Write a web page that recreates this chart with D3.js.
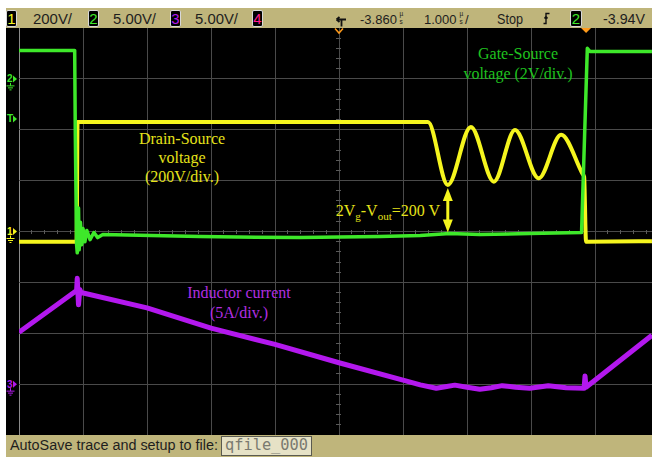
<!DOCTYPE html>
<html><head><meta charset="utf-8">
<script src="https://cdn.jsdelivr.net/npm/d3@7"></script>
<style>html,body{margin:0;padding:0;background:#fff;} svg{display:block}</style>
</head><body><svg id="c" width="652" height="457"></svg>
<script>
// ---------------- data (read from the screen) ----------------
// time in microseconds relative to the trigger point
const ch1Time  = [-8.86, -7.96, -7.945, -2.47, -2.16, -1.80, -1.44, -1.11, -0.74, -0.39, -0.06, -0.03, 0.00, 1.03];
const ch1Volts = [-40, -40, 430, 430, 183, 411, 196, 399, 209, 380, 229, 215, -40, -38];

const ch2Time  = [-8.86, -7.99, -7.98, -7.96, -7.95, -7.93, -7.92, -7.90, -7.88, -7.86, -7.83, -7.80, -7.75, -7.69, -7.63, -7.55, -6.03, -4.47, -3.22, -2.59, -2.13, -1.66, -0.88, -0.07, 0.02, 0.06, 1.03];
const ch2Volts = [2.8, 2.8, -5.6, -16.3, -17.1, -12.7, -16.8, -14.1, -16.3, -14.7, -16.0, -14.9, -15.8, -15.1, -15.6, -15.3, -15.5, -15.6, -15.5, -15.4, -15.2, -15.3, -15.2, -15.1, 3.0, 2.7, 2.7];

const ch3Time  = [-8.86, -7.96, -7.95, -7.93, -7.91, -7.89, -6.86, -5.86, -4.86, -3.86, -2.86, -2.59, -2.34, -2.20, -2.05, -1.86, -1.66, -1.48, -1.31, -1.10, -0.88, -0.59, -0.31, -0.03, -0.016, 0.00, 1.03];
const ch3Amps  = [5.1, 9.2, 10.4, 7.8, 9.3, 9.0, 7.5, 5.5, 3.9, 2.1, 0.4, -0.07, -0.4, -0.25, -0.1, -0.3, -0.5, -0.35, -0.15, -0.3, -0.4, -0.15, -0.35, -0.4, 0.8, -0.3, 4.8];

// scope settings
const chScale  = [200, 5, 5];          // units per division
const chGround = [0, 3, -3];           // ground marker, divisions from centre
const timePerDiv = 1.0;                // µs/div
const delay = -3.86;                   // µs at screen centre
const trigLevel = -3.94;               // V on channel 2

const headerChannels = ["1", "2", "3", "4"];
const headerScales   = ["200V/", "5.00V/", "5.00V/", ""];
const delayLabel = "-3.860", timebaseLabel = "1.000", runLabel = "Stop", trigSource = "2", trigLabel = "-3.94V";
const statusLabel = "AutoSave trace and setup to file:", fileLabel = "qfile_000";

// ---------------- drawing ----------------
const colors = {ch1: "#f5f51e", ch2: "#3ee82a", ch3: "#b318ee", ch4: "#ff1a8c",
                t1: "#e6e31a", t2: "#1fc21f", t3: "#b02ee0", bar: "#bfb57b", grid: "#4a4a4a"};
const svg = d3.select("#c");
const plot = {x0: 6, x1: 652, y0: 28, y1: 435, gx0: 19};
const divW = 64;

const x = d3.scaleLinear().domain([delay - 5 * timePerDiv, delay + 5 * timePerDiv]).range([plot.gx0, plot.gx0 + 10 * divW]);
const yDiv = d3.scaleLinear().domain([-4, 4]).range([plot.y1, plot.y0]);
const yCh = i => v => yDiv(v / chScale[i] + chGround[i]);

svg.append("rect").attr("x", plot.x0).attr("y", plot.y0).attr("width", plot.x1 - plot.x0).attr("height", plot.y1 - plot.y0).attr("fill", "#000");

// grid
const g = svg.append("g");
const vDivs = d3.range(0, 11).map(k => delay - 5 + k * timePerDiv);
g.selectAll(".vg").data(vDivs).join("line")
  .attr("x1", d => x(d)).attr("x2", d => x(d)).attr("y1", plot.y0).attr("y2", plot.y1)
  .attr("stroke", (d, i) => i === 0 ? "#8a8a8a" : colors.grid).attr("stroke-width", 1).attr("shape-rendering", "crispEdges");
g.selectAll(".hg").data(d3.range(-3, 4)).join("line")
  .attr("x1", plot.gx0).attr("x2", plot.x1).attr("y1", d => yDiv(d)).attr("y2", d => yDiv(d))
  .attr("stroke", colors.grid).attr("stroke-width", 1).attr("shape-rendering", "crispEdges");
// centre-line minor ticks
const cx = x(delay), cy = yDiv(0);
g.selectAll(".ty").data(d3.range(-20, 21).filter(k => k % 5 !== 0)).join("line")
  .attr("x1", cx - 3).attr("x2", cx + 2).attr("y1", k => yDiv(k / 5)).attr("y2", k => yDiv(k / 5))
  .attr("stroke", "#5a5a5a").attr("shape-rendering", "crispEdges");
g.selectAll(".tx").data(d3.range(-25, 26).filter(k => k % 5 !== 0)).join("line")
  .attr("x1", k => x(delay + k / 5)).attr("x2", k => x(delay + k / 5)).attr("y1", cy - 2).attr("y2", cy + 2)
  .attr("stroke", "#5a5a5a").attr("shape-rendering", "crispEdges");

// traces
svg.append("clipPath").attr("id", "pc").append("rect")
  .attr("x", plot.gx0).attr("y", plot.y0).attr("width", plot.x1 - plot.gx0).attr("height", plot.y1 - plot.y0);
function trace(ts, vs, i, color, w, curve) {
  const yy = yCh(i);
  const line = d3.line().x(d => x(d[0])).y(d => yy(d[1])).curve(curve);
  svg.append("path").attr("d", line(d3.zip(ts, vs))).attr("fill", "none")
    .attr("stroke", color).attr("stroke-width", w).attr("stroke-linejoin", "round").attr("clip-path", "url(#pc)");
}
trace(ch1Time, ch1Volts, 0, colors.ch1, 4, d3.curveMonotoneX);
trace(ch2Time, ch2Volts, 1, colors.ch2, 3.5, d3.curveLinear);
trace(ch3Time, ch3Amps, 2, colors.ch3, 5, d3.curveLinear);

// left channel markers
function marker(label, y, color, ground) {
  const m = svg.append("g");
  m.append("text").attr("x", 7).attr("y", y + 3.5).text(label).attr("fill", color)
    .attr("font-family", "Liberation Sans, Arial, sans-serif").attr("font-size", 10).attr("font-weight", "bold");
  m.append("path").attr("d", `M13,${y - 3.5}L17,${y}L13,${y + 3.5}Z`).attr("fill", color);
  if (ground) {
    m.append("path").attr("d", `M10.5,${y + 4}V${y + 7}M6.5,${y + 7}H14.5M8,${y + 9}H13M9.5,${y + 11}H11.5`)
      .attr("stroke", color).attr("stroke-width", 1).attr("fill", "none");
  }
}
marker("2", yCh(1)(0), colors.ch2, true);
marker("T", yCh(1)(trigLevel), colors.ch2, false);
marker("1", yCh(0)(0), colors.ch1, true);
marker("3", yCh(2)(0), colors.ch3, true);

// annotations
const serif = "Liberation Serif, Times New Roman, serif";
function lines(arr, cxp, y0, dy, color) {
  arr.forEach((t, i) => svg.append("text").attr("x", cxp).attr("y", y0 + i * dy).attr("text-anchor", "middle")
    .attr("font-family", serif).attr("font-size", 16).attr("fill", color).text(t));
}
lines(["Drain-Source", "voltage", "(200V/div.)"], 182, 144, 19, colors.t1);
lines(["Gate-Source", "voltage (2V/div.)"], 518, 59, 20, colors.t2);
lines(["Inductor current", "(5A/div.)"], 239, 298, 20, colors.t3);

const eq = svg.append("text").attr("x", 440).attr("y", 216).attr("text-anchor", "end")
  .attr("font-family", serif).attr("font-size", 16).attr("fill", colors.t1);
eq.append("tspan").text("2V");
eq.append("tspan").text("g").attr("font-size", 11).attr("dy", 4);
eq.append("tspan").text("-V").attr("dy", -4);
eq.append("tspan").text("out").attr("font-size", 11).attr("dy", 4);
eq.append("tspan").text("=200 V").attr("dy", -4);

// double arrow between trough of ch1 and ch2 low level
const ax = x(ch1Time[4]), aTop = yCh(0)(ch1Volts[4]) + 3, aBot = yCh(1)(ch2Volts[20]) - 1;
svg.append("line").attr("x1", ax).attr("x2", ax).attr("y1", aTop + 8).attr("y2", aBot - 8).attr("stroke", colors.ch1).attr("stroke-width", 3);
svg.append("path").attr("d", `M${ax},${aTop}L${ax - 5},${aTop + 13}L${ax + 5},${aTop + 13}Z`).attr("fill", colors.ch1);
svg.append("path").attr("d", `M${ax},${aBot}L${ax - 5},${aBot - 13}L${ax + 5},${aBot - 13}Z`).attr("fill", colors.ch1);

// header bar
svg.append("rect").attr("x", 6).attr("y", 8).attr("width", 646).attr("height", 20).attr("fill", colors.bar);
const sans = "Liberation Sans, Arial, sans-serif";
const chCol = [colors.ch1, colors.ch2, colors.ch3, colors.ch4];
const boxX = [6.5, 88.5, 170.5, 252.5], scaleX = [33, 113, 195];
function chBox(bx, label, col, w) {
  svg.append("rect").attr("x", bx).attr("y", 10.5).attr("width", w).attr("height", 16).attr("rx", 1.5)
    .attr("fill", "#000").attr("stroke", "#d8d8d8").attr("stroke-width", 1);
  svg.append("text").attr("x", bx + w / 2).attr("y", 24).attr("text-anchor", "middle").attr("font-family", sans)
    .attr("font-size", 15).attr("fill", col).text(label);
}
headerChannels.forEach((c, i) => chBox(boxX[i], c, chCol[i], 10));
function htext(t, x0, len, fs) {
  const e = svg.append("text").attr("x", x0).attr("y", 23.5).attr("font-family", sans).attr("font-size", fs || 15)
    .attr("fill", "#1e1e1e").text(t);
  if (len) e.attr("textLength", len).attr("lengthAdjust", "spacingAndGlyphs");
}
headerScales.forEach((s, i) => { if (s) htext(s, scaleX[i], i === 0 ? 39 : 43); });
// stacked "µs" unit glyph, drawn as one text element
function usStack(x0) {
  const t = svg.append("text").attr("font-family", sans).attr("font-size", 6.5).attr("fill", "#1e1e1e");
  t.append("tspan").attr("x", x0).attr("y", 15.5).text("µ");
  t.append("tspan").attr("x", x0).attr("y", 24).text("s");
}
htext(delayLabel, 360, null, 13); usStack(399.5);
htext(timebaseLabel, 424, null, 13); usStack(459.5); htext("/", 465, null, 13);
htext(runLabel, 497, 26);
htext(trigLabel, 603, 42);
chBox(570.5, trigSource, colors.ch2, 11);
// delay icon & trigger slope icon
svg.append("path").attr("d", "M346,19.5H336.5M336.5,19.5l3,-2.5M336.5,19.5l3,2.5M341.5,19.5V26.5")
  .attr("stroke", "#111").attr("stroke-width", 1.8).attr("fill", "none");
svg.append("path").attr("d", "M543.5,23.5H546V13.5H549.5M544.5,18.5l1.5,-2l1.5,2")
  .attr("stroke", "#111").attr("stroke-width", 1.4).attr("fill", "none");
// time reference & trigger markers
svg.append("path").attr("d", `M${cx - 4},28.5L${cx},33L${cx + 4},28.5`).attr("stroke", "#ff9a1a").attr("stroke-width", 1.5).attr("fill", "none");
svg.append("path").attr("d", `M${x(0) - 5},28L${x(0)},33L${x(0) + 5},28Z`).attr("fill", "#ff9a1a");

// status bar
svg.append("rect").attr("x", 6).attr("y", 435).attr("width", 646).attr("height", 22).attr("fill", colors.bar);
svg.append("text").attr("x", 10).attr("y", 450).attr("font-family", sans).attr("font-size", 14).attr("fill", "#1e1e1e")
  .attr("textLength", 208).attr("lengthAdjust", "spacingAndGlyphs").text(statusLabel);
svg.append("rect").attr("x", 221.5).attr("y", 436.5).attr("width", 90).attr("height", 19).attr("fill", "#e6e2c6").attr("stroke", "#5a5a50");
svg.append("text").attr("x", 225).attr("y", 450).attr("font-family", "DejaVu Sans Mono, monospace").attr("font-size", 16)
  .attr("fill", "#7a7a70").attr("textLength", 83).attr("lengthAdjust", "spacingAndGlyphs").text(fileLabel);
</script>
</body></html>
